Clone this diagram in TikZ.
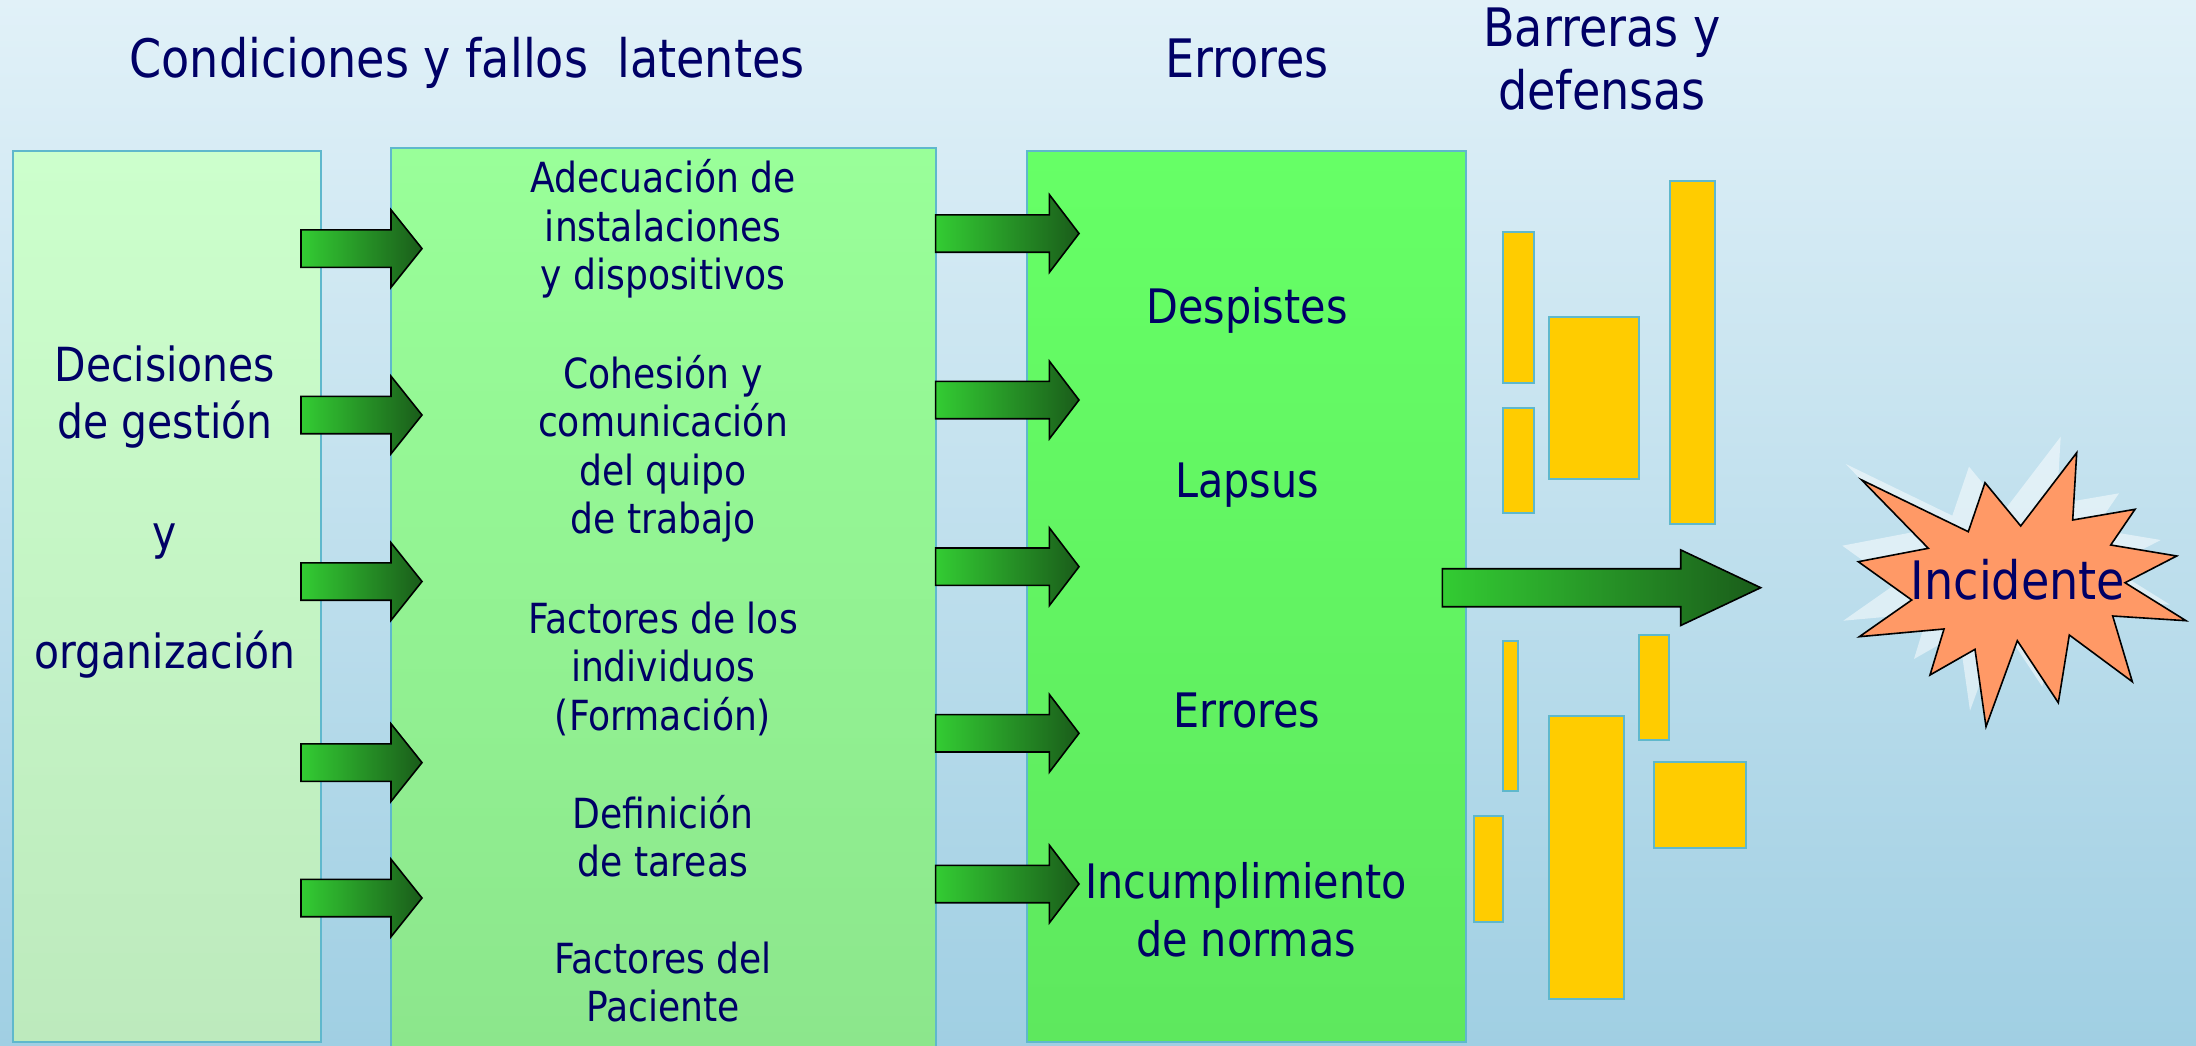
\documentclass[tikz,border=0pt]{standalone}
\usepackage{fontspec}
\setmainfont{DejaVu Sans}[FakeStretch=0.87]
\definecolor{navy}{HTML}{000066}
\definecolor{bgtop}{HTML}{E1F1F8}
\definecolor{bgbot}{HTML}{A0CFE3}
\definecolor{edge}{HTML}{5FB8CC}
\definecolor{gA}{HTML}{CCFFCC}
\definecolor{gAb}{HTML}{BDEABD}
\definecolor{gB}{HTML}{99FF99}
\definecolor{gBb}{HTML}{8CE68C}
\definecolor{gC}{HTML}{66FF66}
\definecolor{gCb}{HTML}{5EE85E}
\definecolor{arL}{HTML}{33CC33}
\definecolor{arM}{HTML}{2AA82A}
\definecolor{arR}{HTML}{1A5C1A}
\definecolor{barY}{HTML}{FFCC00}
\definecolor{starF}{HTML}{FF9966}
\tikzset{
  boxst/.style={draw=edge, line width=2pt, inner sep=0pt, outer sep=0pt, anchor=north west},
  txt/.style={text=navy, inner sep=0pt, anchor=base, align=center},
  arrowst/.style={draw=black, line width=1.6pt, line join=miter, left color=arL, middle color=arM, right color=arR},
  barst/.style={draw=edge, line width=2pt, fill=barY},
}
\newcommand\myarrow[6]{%
  \path[arrowst] (#1,#4-#5) -- (#2,#4-#5) -- (#2,#4-#6) -- (#3,#4) -- (#2,#4+#6) -- (#2,#4+#5) -- (#1,#4+#5) -- cycle;}
\newcommand\fs[2]{\fontsize{#1pt}{#2pt}\selectfont}
\begin{document}
\begin{tikzpicture}[x=1pt,y=-1pt]
% background
\path[top color=bgtop, bottom color=bgbot] (0,0) rectangle (2196,1046);
\useasboundingbox (0,0) rectangle (2196,1046);
% boxes
\node[boxst, top color=gA, bottom color=gAb, minimum width=308pt, minimum height=891pt] (dec) at (13,151) {};
\node[boxst, top color=gB, bottom color=gBb, minimum width=545pt, minimum height=902pt] (lat) at (391,148) {};
\node[boxst, top color=gC, bottom color=gCb, minimum width=439pt, minimum height=891pt] (err) at (1027,151) {};
% titles
\node[txt] (t1) at (467,78) {\fs{53}{63}Condiciones y fallos~ latentes};
\node[txt] (t2) at (1247,78) {\fs{53}{63}Errores};
\node[txt] (t3) at (1602,47) {\fs{53}{63}\begin{tabular}[t]{@{}c@{}}Barreras y\\defensas\end{tabular}};
% left text
\node[txt] (dtxt) at (165,381) {\fs{47}{57}\begin{tabular}[t]{@{}c@{}}Decisiones\\de gestión\\[54pt]y\\[62pt]organización\end{tabular}};
% middle texts
\node[txt] (m1) at (663,193) {\fs{41.5}{48.5}\begin{tabular}[t]{@{}c@{}}Adecuación de\\instalaciones\\y dispositivos\end{tabular}};
\node[txt] (m2) at (663,388) {\fs{41.5}{48.5}\begin{tabular}[t]{@{}c@{}}Cohesión y\\comunicación\\del quipo\\de trabajo\end{tabular}};
\node[txt] (m3) at (663,633) {\fs{41.5}{48.5}\begin{tabular}[t]{@{}c@{}}Factores de los\\individuos\\(Formación)\end{tabular}};
\node[txt] (m4) at (663,828) {\fs{41.5}{48.5}\begin{tabular}[t]{@{}c@{}}Definición\\de tareas\end{tabular}};
\node[txt] (m5) at (663,973) {\fs{41.5}{48.5}\begin{tabular}[t]{@{}c@{}}Factores del\\Paciente\end{tabular}};
% arrows left -> middle
\foreach \yc in {248.6,415,581.5,762.6,898} {\myarrow{301}{391}{422}{\yc}{18.7}{38.8}}
% arrows middle -> right
\foreach \yc in {233.5,400,566.7,733.3,884} {\myarrow{935.6}{1049.4}{1079}{\yc}{18.7}{38.8}}
% error texts
\node[txt] (e1) at (1247,323) {\fs{47.5}{58.5}Despistes};
\node[txt] (e2) at (1247,497) {\fs{47.5}{58.5}Lapsus};
\node[txt] (e3) at (1247,727) {\fs{47.5}{58.5}Errores};
\node[txt] (e4) at (1246,898) {\fs{47.5}{58.5}\begin{tabular}[t]{@{}c@{}}Incumplimiento\\de normas\end{tabular}};
% barriers
\path[barst] (1503,232) rectangle (1533.5,383);
\path[barst] (1503,407.6) rectangle (1533.5,513);
\path[barst] (1548.7,317.4) rectangle (1639,479);
\path[barst] (1669.5,181) rectangle (1715.2,524);
\path[barst] (1503,640.7) rectangle (1517.8,791.4);
\path[barst] (1639,635) rectangle (1669,740);
\path[barst] (1548.7,716) rectangle (1623.9,999);
\path[barst] (1653.8,761.8) rectangle (1745.7,847.5);
\path[barst] (1473.6,816) rectangle (1503,921.7);
% big arrow
\myarrow{1442.3}{1680.7}{1760.7}{587.7}{19}{37.8}
% star shadow
\path[fill=white, opacity=0.5, shift={(-16,-16)}]
 (1861.7,480) -- (1968.3,531.7) -- (1985,482.7) -- (2020.7,526) -- (2076.7,452.7) -- (2072.7,520) -- (2135,509.3) -- (2110.7,545) -- (2176.7,556) -- (2125,582.7) -- (2186,620.7) -- (2112.7,616) -- (2132.3,681.7) -- (2069.3,635) -- (2058.3,702.7) -- (2017.3,640.7) -- (1986,726.7) -- (1975,649.3) -- (1930,675) -- (1944,629) -- (1859.3,636.7) -- (1911.7,600) -- (1858.3,561.7) -- (1928.3,548.3) -- cycle;
% star
\path[fill=starF, draw=black, line width=1.6pt, line join=miter]
 (1861.7,480) -- (1968.3,531.7) -- (1985,482.7) -- (2020.7,526) -- (2076.7,452.7) -- (2072.7,520) -- (2135,509.3) -- (2110.7,545) -- (2176.7,556) -- (2125,582.7) -- (2186,620.7) -- (2112.7,616) -- (2132.3,681.7) -- (2069.3,635) -- (2058.3,702.7) -- (2017.3,640.7) -- (1986,726.7) -- (1975,649.3) -- (1930,675) -- (1944,629) -- (1859.3,636.7) -- (1911.7,600) -- (1858.3,561.7) -- (1928.3,548.3) -- cycle;
\node[txt] (inc) at (2018,599) {\fs{53}{63}Incidente};
\end{tikzpicture}
\end{document}
